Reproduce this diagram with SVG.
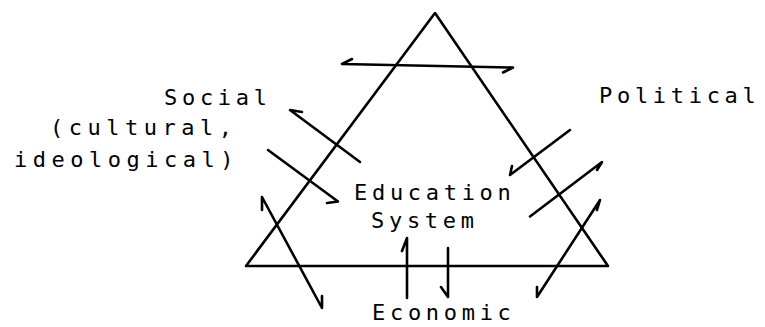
<svg xmlns="http://www.w3.org/2000/svg" width="765" height="327" viewBox="0 0 765 327">
<style>
.ln{fill:none;stroke:#000;stroke-width:2.6;stroke-linecap:round;stroke-linejoin:round}
.tx{font-family:"DejaVu Sans Mono","Liberation Mono",monospace;font-size:22px;letter-spacing:4.7px;fill:#000}
.wide{letter-spacing:5.5px}
</style>
<rect width="765" height="327" fill="#fff"/>
<g id="triangle">
<path class="ln" d="M435,13 L246,266 L608,266 Z"/>
</g>
<g id="social">
<text class="tx" x="164" y="105">Social</text>
<text class="tx wide" x="50" y="135">(cultural,</text>
<text class="tx wide" x="14" y="167">ideological)</text>
</g>
<g id="political">
<text class="tx" x="599" y="103">Political</text>
</g>
<g id="education">
<text class="tx" x="354" y="200">Education</text>
<text class="tx" x="371" y="228">System</text>
</g>
<g id="economic">
<text class="tx" x="372" y="320">Economic</text>
</g>
<g id="connectors">
<path class="ln" d="M342,64 L513,67.5 M342,64 L352,59 M513,67.5 L503,72.5"/>
<path class="ln" d="M360,162 L290,110 L302,112"/>
<path class="ln" d="M268,150 L338,201.5 L327,203"/>
<path class="ln" d="M262,197 L322,308 M262,197 L262,210 M322,308 L322,296"/>
<path class="ln" d="M407,298 L407,238 L402,251"/>
<path class="ln" d="M448,248 L448,297 L441,287"/>
<path class="ln" d="M570,130 L510,175 L512,166"/>
<path class="ln" d="M530,216.5 L602,162 L597,170"/>
<path class="ln" d="M537,297 L600,200 M600,200 L597,210 M537,297 L537,287"/>
</g>
</svg>
